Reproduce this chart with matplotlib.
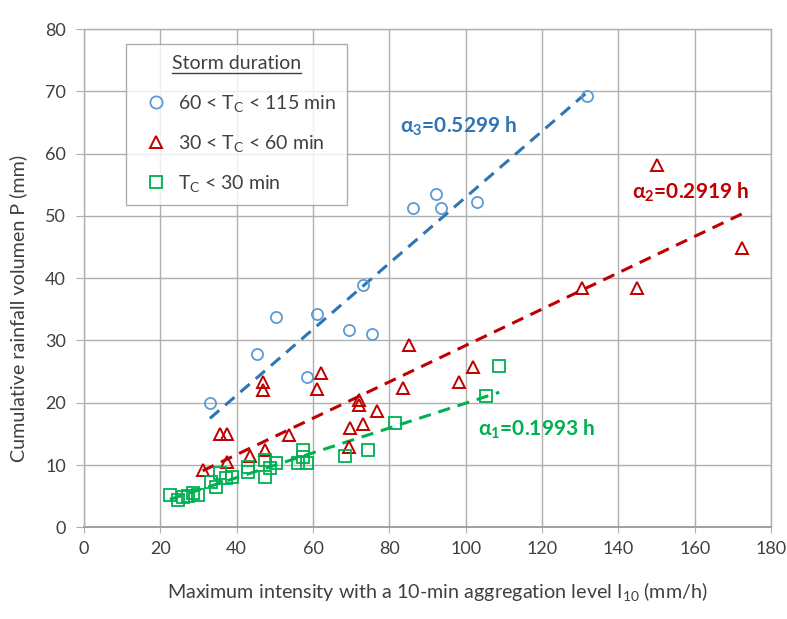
import matplotlib
matplotlib.use('Agg')
import matplotlib.pyplot as plt
from matplotlib.lines import Line2D
import numpy as np

plt.rcParams['font.family'] = ['Lato', 'DejaVu Sans']
plt.rcParams['mathtext.fontset'] = 'custom'
plt.rcParams['mathtext.rm'] = 'Lato'
plt.rcParams['mathtext.it'] = 'Lato:italic'
plt.rcParams['mathtext.bf'] = 'Lato:bold'

# 60 < Tc < 115 min
long_i10 = [33.0, 45.3, 50.3, 58.4, 61.0, 69.4, 73.0, 75.4, 86.1, 92.1, 93.5, 102.9, 131.7]
long_p = [19.9, 27.9, 33.8, 24.1, 34.2, 31.7, 38.9, 31.0, 51.3, 53.5, 51.3, 52.2, 69.3]

# 30 < Tc < 60 min
mid_i10 = [31.1, 35.6, 37.5, 37.4, 43.5, 47.4, 46.9, 46.9, 53.7, 61.0, 62.0, 69.4, 69.6,
           72.0, 72.0, 73.0, 76.7, 83.5, 85.1, 98.2, 101.8, 130.6, 144.8, 150.0, 172.5]
mid_p = [9.2, 15.0, 15.0, 10.5, 11.4, 12.4, 23.3, 22.0, 14.8, 22.2, 24.8, 12.9, 15.9,
         20.4, 19.6, 16.6, 18.7, 22.4, 29.3, 23.3, 25.7, 38.4, 38.4, 58.2, 44.9]

# Tc < 30 min
short_i10 = [22.5, 24.7, 26.0, 27.3, 28.6, 29.9, 33.4, 34.7, 35.6, 37.3, 38.7, 43.0, 43.0,
             47.4, 47.4, 48.7, 50.4, 56.0, 57.3, 57.3, 58.4, 68.3, 74.3, 81.4, 105.4, 108.8]
short_p = [5.2, 4.4, 4.8, 5.0, 5.5, 5.2, 7.3, 6.5, 8.7, 7.9, 8.0, 9.7, 8.9,
           10.8, 8.1, 9.5, 10.3, 10.3, 12.4, 11.3, 10.3, 11.4, 12.4, 16.8, 21.1, 25.9]

alphas = {'long': 0.5299, 'mid': 0.2919, 'short': 0.1993}

blue_m, blue_l = '#5b9bd5', '#2e75b6'
red = '#c00000'
green = '#00b050'
grid_c = '#b0b0b0'
txt_c = '#404040'

fig = plt.figure(figsize=(7.87, 6.19), dpi=100, facecolor='white')
ax = fig.add_axes([0.1067, 0.1481, 0.8730, 0.8050])

ax.set_xlim(0, 180)
ax.set_ylim(0, 80)
ax.set_xticks(np.arange(0, 181, 20))
ax.set_yticks(np.arange(0, 81, 10))
ax.grid(True, color=grid_c, lw=1.0, zorder=0)
ax.set_axisbelow(True)
for s in ax.spines.values():
    s.set_color(grid_c)
    s.set_linewidth(1.0)
ax.spines['bottom'].set_color('#a0a0a0')
ax.spines['bottom'].set_linewidth(1.4)
ax.tick_params(axis='x', direction='inout', length=9, color=grid_c, labelsize=13,
               labelcolor=txt_c, pad=5)
ax.tick_params(axis='y', direction='out', length=6, color=grid_c, labelsize=13,
               labelcolor=txt_c, pad=7)


def fit_line(x, a):
    xs = np.array([min(x), max(x)])
    return xs, a * xs


ax.plot(long_i10, long_p, 'o', ms=8, mfc='none', mec=blue_m, mew=1.3, zorder=3,
        label='60 < T$_\\mathregular{C}$ < 115 min')
ax.plot(mid_i10, mid_p, '^', ms=8.5, mfc='none', mec=red, mew=1.4, zorder=3,
        label='30 < T$_\\mathregular{C}$ < 60 min')
ax.plot(short_i10, short_p, 's', ms=8, mfc='none', mec=green, mew=1.3, zorder=3,
        label='T$_\\mathregular{C}$ < 30 min')

xs, ys = fit_line(long_i10, alphas['long'])
ax.plot(xs, ys, color=blue_l, lw=2.2, dashes=(4, 2.6), zorder=2)
xs, ys = fit_line(mid_i10, alphas['mid'])
ax.plot(xs, ys, color=red, lw=2.2, dashes=(4, 2.6), zorder=2)
xs, ys = fit_line(short_i10, alphas['short'])
ax.plot(xs, ys, color=green, lw=2.2, dashes=(4, 2.6), zorder=2)

ax.text(82.7, 64.3, '\u03b1$_\\mathregular{3}$=%.4f h' % alphas['long'], color=blue_l,
        fontsize=15, fontweight='bold', va='center', ha='left')
ax.text(143.7, 53.7, '\u03b1$_\\mathregular{2}$=%.4f h' % alphas['mid'], color=red,
        fontsize=15, fontweight='bold', va='center', ha='left')
ax.text(103.1, 15.8, '\u03b1$_\\mathregular{1}$=%.4f h' % alphas['short'], color=green,
        fontsize=15, fontweight='bold', va='center', ha='left')

ax.set_xlabel('Maximum intensity with a 10-min aggregation level I$_\\mathregular{10}$ (mm/h)',
              fontsize=14.2, color=txt_c)
ax.set_ylabel('Cumulative rainfall volumen P (mm)', fontsize=14.2, color=txt_c)
ax.xaxis.set_label_coords(0.514, -0.105)
ax.yaxis.set_label_coords(-0.082, 0.44)

leg = ax.legend(loc='upper left', bbox_to_anchor=(0.061, 0.970), fontsize=14,
                title='Storm duration', title_fontsize=14, frameon=True, fancybox=False,
                edgecolor='#9a9a9a', borderpad=0.58, labelspacing=0.97, handlelength=1.9,
                handletextpad=0.2, borderaxespad=0.0, markerscale=1.1)
leg.get_frame().set_linewidth(1.0)
for t in leg.get_texts():
    t.set_color(txt_c)
leg.get_title().set_color(txt_c)
leg._legend_box.sep = 15

# underline for the legend title
fig.canvas.draw()
bb = leg.get_title().get_window_extent()
inv = fig.transFigure.inverted()
(x0, y0), (x1, _) = inv.transform([(bb.x0, bb.y0 - 1), (bb.x1, bb.y0 - 1)])
fig.add_artist(Line2D([x0, x1], [y0, y0], transform=fig.transFigure, color=txt_c, lw=1.0))

fig.savefig('out.png', dpi=100, facecolor='white')
